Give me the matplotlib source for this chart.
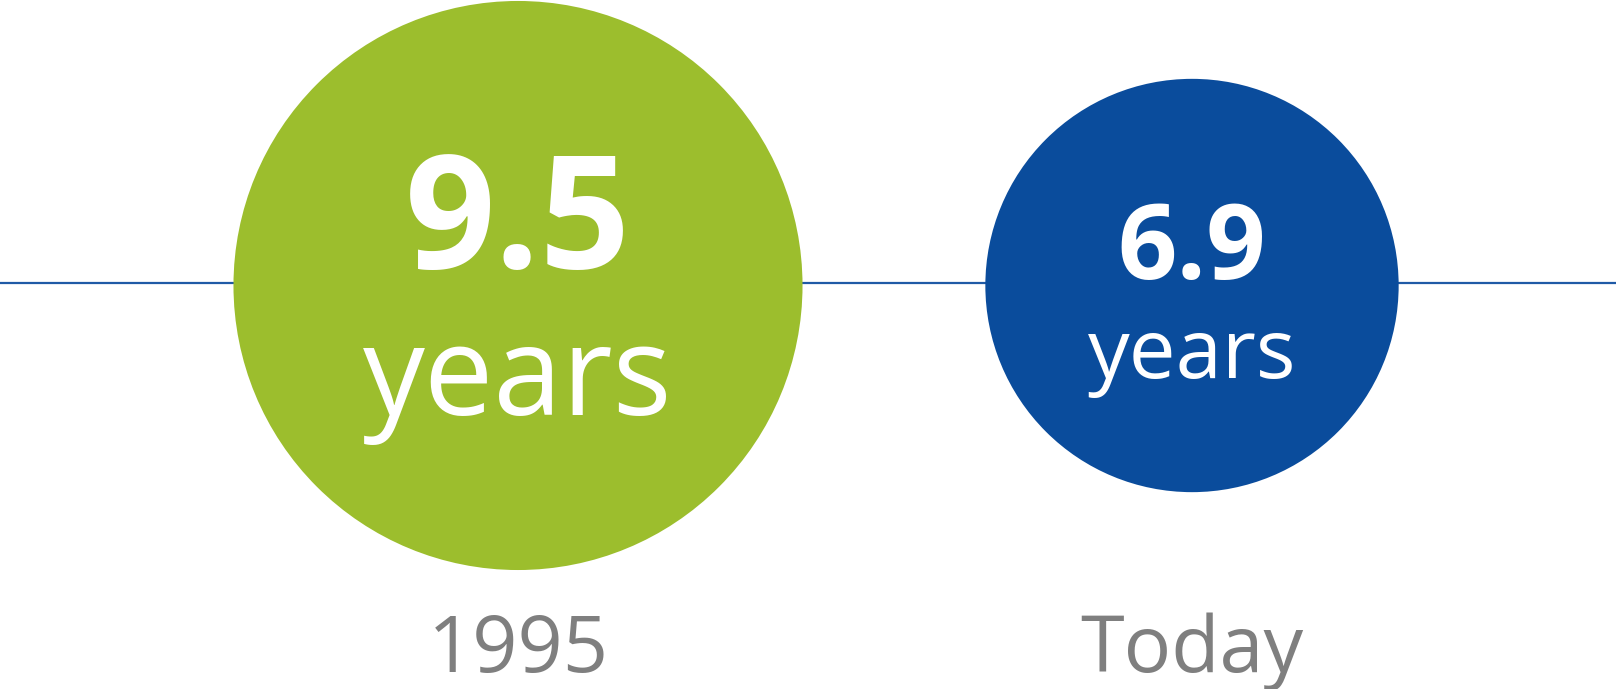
import matplotlib
matplotlib.use("Agg")
import matplotlib.pyplot as plt
from matplotlib.patches import Circle

# data
labels = ["1995", "Today"]
values = [9.5, 6.9]
value_text = ["9.5", "6.9"]
unit = "years"
colors = ["#9cbe2d", "#0a4c9c"]

W, H = 1616, 689
fig = plt.figure(figsize=(W / 100, H / 100), dpi=100)
ax = fig.add_axes([0, 0, 1, 1])
ax.set_xlim(0, W)
ax.set_ylim(H, 0)
ax.set_aspect("equal")
ax.axis("off")

cx = [518, 1192]
cy = 285.5
scale = 29.95  # radius in px per year

ax.plot([0, W], [283, 283], color="#1f5aa6", lw=1.6, zorder=1)

num_size = [114, 75]
yrs_size = [89, 60]
num_base = [268, 279]
yrs_base = [415, 378]

for i in range(len(values)):
    r = values[i] * scale
    ax.add_patch(Circle((cx[i], cy), r, color=colors[i], zorder=2, lw=0))
    ax.text(cx[i], num_base[i], value_text[i], ha="center", va="baseline",
            fontsize=num_size[i], fontweight="bold", color="white",
            family="Open Sans", zorder=3)
    ax.text(cx[i], yrs_base[i], unit, ha="center", va="baseline",
            fontsize=yrs_size[i], color="white", family="Open Sans", zorder=3)
    ax.text(cx[i], 672, labels[i], ha="center", va="baseline",
            fontsize=57, color="#7f7f7f", family="Open Sans")

fig.savefig("out.png", dpi=100)
